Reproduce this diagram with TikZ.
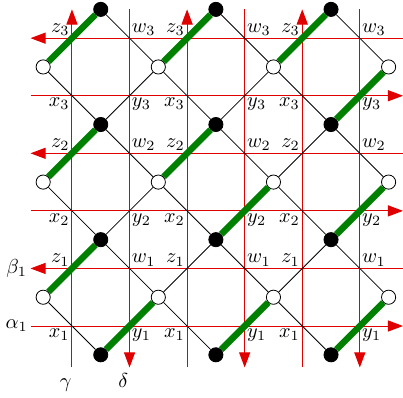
\documentclass[tikz,border=0pt]{standalone}
\usetikzlibrary{arrows.meta}
\definecolor{gridred}{RGB}{225,0,0}
\begin{document}
\begin{tikzpicture}[
        bv/.style={circle, draw, fill=black, inner sep=0pt, minimum size=7pt},
        wv/.style={circle, draw, fill=white, inner sep=0pt, minimum size=7pt},
        gridline/.style={draw=gridred, line width=0.5pt},
        redtip/.tip={Triangle[length=7.5pt, width=5.5pt, fill=gridred]},
        match/.style={line width=3.2pt, green!50!black},
        lab/.style={inner sep=1pt}
    ]
        \useasboundingbox (-0.75, -0.75) rectangle (6.25, 6.163);

        % red lines
        \foreach \y in {0.5, 2.5, 4.5}
            \draw[gridline, -redtip] (-0.22, \y) -- (6.25, \y);
        \foreach \y in {1.5, 3.5, 5.5}
            \draw[gridline, redtip-] (-0.22, \y) -- (6.25, \y);
        \foreach \x in {0.5, 2.5, 4.5}
            \draw[gridline, -redtip] (\x, -0.22) -- (\x, 6);
        \foreach \x in {1.5, 3.5, 5.5}
            \draw[gridline, redtip-] (\x, -0.22) -- (\x, 6);

        \node (a1) at (-0.46, 0.5) {$\alpha_1$};
        \node (b1) at (-0.46, 1.5) {$\beta_1$};
        \node[anchor=base] (g) at (0.39, -0.56) {$\gamma$};
        \node[anchor=base] (d) at (1.39, -0.56) {$\delta$};

        % vertices
        \foreach \x in {1, 3, 5}
            \foreach \y in {0, 2, 4, 6}
                \node[bv] (b\x\y) at (\x, \y) {};
        \foreach \x in {0, 2, 4, 6}
            \foreach \y in {1, 3, 5}
                \node[wv] (w\x\y) at (\x, \y) {};

        % edges
        \foreach \x in {1, 3, 5}
            \foreach \y in {0, 2, 4, 6} {
                \pgfmathtruncatemacro\xl{\x-1}
                \pgfmathtruncatemacro\xr{\x+1}
                \pgfmathtruncatemacro\yd{\y-1}
                \pgfmathtruncatemacro\yu{\y+1}
                \ifnum\y>0 \draw (b\x\y) -- (w\xl\yd) (b\x\y) -- (w\xr\yd); \fi
                \ifnum\y<6 \draw (b\x\y) -- (w\xl\yu) (b\x\y) -- (w\xr\yu); \fi
            }

        \foreach \a/\b in {w05/b16, w25/b36, w45/b56, b54/w65,
                           w03/b14, w23/b34, b32/w43, b52/w63,
                           w01/b12, b10/w21, b30/w41, b50/w61}
            \draw[match] (\a) -- (\b);

        % labels
        \foreach \c in {1, 3, 5}
            \foreach \r/\i in {1/1, 3/2, 5/3} {
                \node[lab, anchor=south east] (z\i\c) at (\c-0.5, \r+0.5) {$z_\i$};
                \node[lab, anchor=south west] (v\i\c) at (\c+0.5, \r+0.5) {$w_\i$};
                \node[lab, anchor=north east] (x\i\c) at (\c-0.5, \r-0.5) {$x_\i$};
                \node[lab, anchor=north west] (y\i\c) at (\c+0.5, \r-0.5) {$y_\i$};
            }
    \end{tikzpicture}
\end{document}
